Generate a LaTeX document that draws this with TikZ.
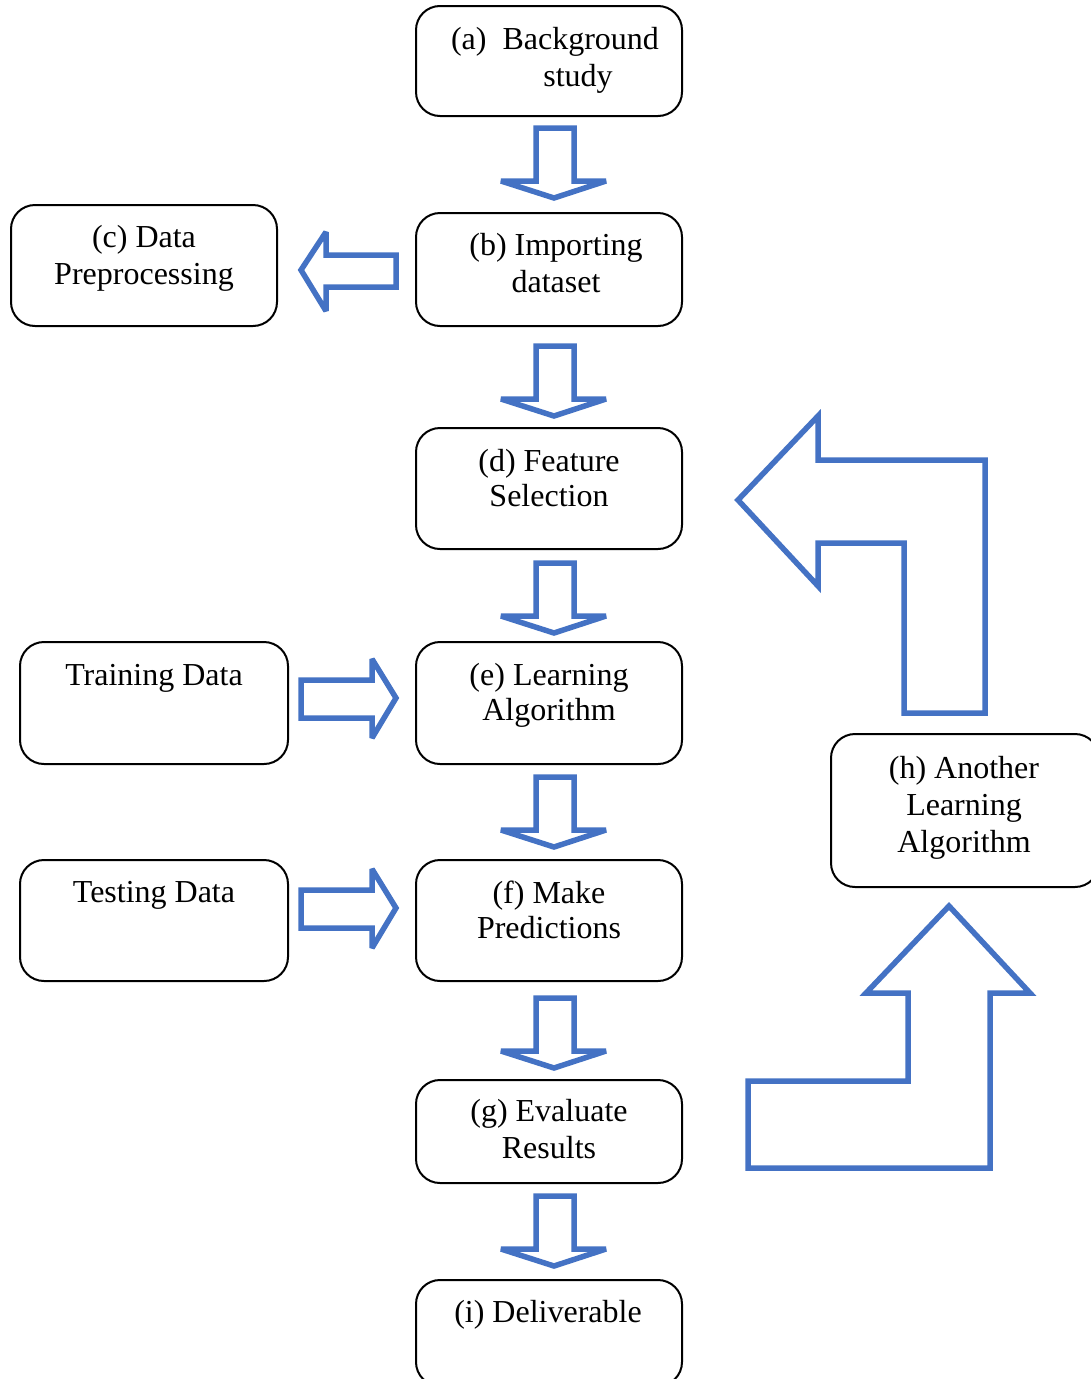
\documentclass[tikz,border=0pt]{standalone}
\usepackage{fontspec}
\setmainfont{Liberation Serif}
\definecolor{arrblue}{HTML}{4472C4}
\tikzset{
  box/.style={draw=black, line width=2pt, rounded corners=24pt, inner sep=0pt, outer sep=0pt, minimum width=266pt},
  lbl/.style={font=\fontsize{32}{37}\selectfont, align=center, anchor=base, inner sep=0pt},
  tight/.style={font=\fontsize{32}{35}\selectfont},
  blk/.style={draw=arrblue, line width=5.5pt, line join=miter, miter limit=3},
  downarr/.pic={\draw[blk] (-19,0) -- (19,0) -- (19,53) -- (51,53) -- (-1,70) -- (-54,53) -- (-19,53) -- cycle;},
  rightarr/.pic={\draw[blk] (0,-19) -- (71,-19) -- (71,-40) -- (95,-1) -- (71,39) -- (71,19) -- (0,19) -- cycle;}
}
\begin{document}
\begin{tikzpicture}[x=1pt, y=-1pt]
\clip (0,0) rectangle (1091,1379);
\fill[white] (0,0) rectangle (1091,1379);
% boxes
\node[box, minimum height=110pt] (a) at (549,61) {};
\node[box, minimum height=113pt] (b) at (549,269.5) {};
\node[box, minimum height=121pt] (c) at (144,265.5) {};
\node[box, minimum height=121pt] (d) at (549,488.5) {};
\node[box, minimum height=122pt] (e) at (549,703) {};
\node[box, minimum height=122pt, minimum width=268pt] (tr) at (154,703) {};
\node[box, minimum height=121pt] (f) at (549,920.5) {};
\node[box, minimum height=121pt, minimum width=268pt] (te) at (154,920.5) {};
\node[box, minimum height=103pt] (g) at (549,1131.5) {};
\node[box, minimum height=106pt] (i) at (549,1333) {};
\node[box, minimum height=153pt, minimum width=268pt] (h) at (965,810.5) {};
% texts (anchor = baseline of last line)
\node[lbl] (aT) at (555,86) {(a)~~Background\\\hspace*{46pt}study};
\node[lbl] (bT) at (556,292) {(b) Importing\\dataset};
\node[lbl] (cT) at (144,284) {(c) Data\\Preprocessing};
\node[lbl, tight] (dT) at (549,506) {(d) Feature\\Selection};
\node[lbl, tight] (eT) at (549,720) {(e) Learning\\Algorithm};
\node[lbl] (trT) at (154,685) {Training Data};
\node[lbl, tight] (fT) at (549,938) {(f) Make\\Predictions};
\node[lbl] (teT) at (154,902) {Testing Data};
\node[lbl] (gT) at (549,1158) {(g) Evaluate\\Results};
\node[lbl] (iT) at (548,1322) {(i) Deliverable};
\node[lbl] (hT) at (964,852) {(h) Another\\Learning\\Algorithm};
% down block arrows
\pic at (555,128) {downarr};
\pic at (555,346) {downarr};
\pic at (555,563) {downarr};
\pic at (555,777) {downarr};
\pic at (555,998) {downarr};
\pic at (555,1196) {downarr};
% right block arrows
\pic at (301,699) {rightarr};
\pic at (301,909) {rightarr};
% left block arrow
\draw[blk] (301,270) -- (326,232) -- (326,255) -- (396,255) -- (396,287) -- (326,287) -- (326,311) -- cycle;
% bent arrow up-left
\draw[blk] (738,500) -- (818,416) -- (818,460) -- (985,460) -- (985,713) -- (904,713) -- (904,543) -- (818,543) -- (818,586) -- cycle;
% bent arrow up
\draw[blk] (949,906) -- (1030,993) -- (990,993) -- (990,1168) -- (748,1168) -- (748,1081) -- (908,1081) -- (908,993) -- (866,993) -- cycle;
\end{tikzpicture}
\end{document}
